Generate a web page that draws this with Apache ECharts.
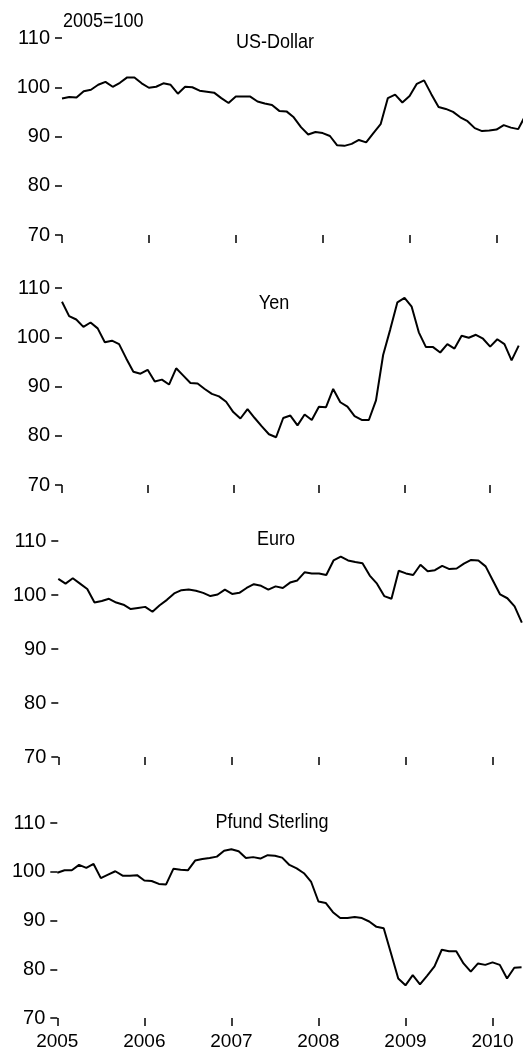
<!DOCTYPE html>
<html>
<head>
<meta charset="utf-8">
<script src="https://cdn.jsdelivr.net/npm/echarts@6/dist/echarts.min.js"></script>
<style>
html,body{margin:0;padding:0;background:#fff;}
#chart{width:523px;height:1054px;}
</style>
</head>
<body>
<div id="chart"></div>
<script>
// Months since January 2005 (index 0 = Jan 2005)
const yearLabels = ['2005','2006','2007','2008','2009','2010'];
const yearTickMonths = [0,12,24,36,48,60];
const yTicks = [70,80,90,100,110];
const panelTitles = ['US-Dollar','Yen','Euro','Pfund Sterling'];
const unitNote = '2005=100';

const usDollar = [97.7,98.0,97.9,99.2,99.5,100.5,101.1,100.1,100.9,102.0,102.0,100.8,
  99.9,100.1,100.8,100.5,98.7,100.1,100.0,99.3,99.1,98.9,97.8,96.8,
  98.1,98.1,98.1,97.1,96.7,96.4,95.2,95.1,93.9,91.9,90.4,90.9,
  90.7,90.1,88.2,88.1,88.5,89.3,88.8,90.7,92.5,97.8,98.5,96.9,
  98.2,100.7,101.4,98.6,96.0,95.6,95.0,93.9,93.1,91.7,91.1,91.2,
  91.4,92.3,91.8,91.5,94.3];
const yen = [107.2,104.3,103.6,102.1,103.0,101.8,99.0,99.3,98.6,95.7,93.0,92.6,
  93.4,91.0,91.4,90.4,93.7,92.2,90.7,90.6,89.5,88.5,88.0,86.9,
  84.8,83.5,85.4,83.6,81.9,80.3,79.7,83.6,84.1,82.1,84.3,83.2,
  85.9,85.8,89.5,86.8,85.9,84.0,83.2,83.2,87.2,96.4,101.6,107.1,
  108.0,106.2,101.0,98.0,98.0,96.9,98.6,97.7,100.3,99.9,100.5,99.7,
  98.1,99.6,98.6,95.3,98.3];
const euro = [103.0,102.1,103.1,102.1,101.1,98.6,98.9,99.3,98.6,98.2,97.4,97.6,
  97.8,96.9,98.1,99.1,100.3,100.9,101.0,100.8,100.4,99.8,100.1,101.0,
  100.2,100.4,101.3,102.0,101.7,101.0,101.6,101.3,102.3,102.7,104.2,104.0,
  104.0,103.7,106.4,107.1,106.4,106.1,105.9,103.6,102.1,99.8,99.3,104.5,
  104.0,103.7,105.6,104.4,104.6,105.4,104.8,104.9,105.8,106.5,106.4,105.3,
  102.7,100.1,99.4,97.9,94.9];
const pound = [99.8,100.3,100.3,101.4,100.8,101.6,98.7,99.4,100.1,99.2,99.2,99.3,
  98.2,98.1,97.5,97.4,100.6,100.4,100.3,102.3,102.6,102.8,103.1,104.3,
  104.6,104.2,102.8,103.0,102.7,103.4,103.3,102.9,101.4,100.7,99.7,97.9,
  93.9,93.6,91.7,90.5,90.5,90.7,90.5,89.8,88.7,88.4,83.3,78.1,
  76.7,78.8,76.9,78.7,80.6,84.0,83.7,83.7,81.2,79.5,81.2,80.9,
  81.4,80.9,78.1,80.3,80.4];

const seriesValues = [usDollar, yen, euro, pound];

// layout per panel (pixels)
const panels = [
  {left:62,   top:38,  height:197, xmax:63.66, titleX:275, titleY:42},
  {left:62,   top:288, height:197, xmax:64.6,  titleX:274, titleY:303},
  {left:58.3, top:541, height:216, xmax:64.16, titleX:276, titleY:539},
  {left:57.3, top:823, height:195, xmax:64.2,  titleX:272, titleY:822}
];

const FONT = '"Liberation Sans", Arial, sans-serif';
const FS_Y = 20;
const FS_X = 19;
const FS_T = 20;

const grids = [], xAxes = [], yAxes = [], series = [], graphics = [];
panels.forEach((p, k) => {
  grids.push({left:p.left, top:p.top, right:0, height:p.height, containLabel:false});
  xAxes.push({
    type:'value', gridIndex:k, min:0, max:p.xmax,
    axisLine:{show:false},
    splitLine:{show:false},
    axisTick:{show:true, inside:false, length:8, lineStyle:{color:'#000', width:1.5},
      customValues: yearTickMonths},
    axisLabel:{show: k === 3, margin:14, color:'#000', fontSize:FS_X, fontFamily:FONT,
      customValues: yearTickMonths,
      formatter: v => yearLabels[yearTickMonths.indexOf(Math.round(v))] || ''}
  });
  yAxes.push({
    type:'value', gridIndex:k, min:yTicks[0], max:yTicks[yTicks.length-1], interval:10,
    axisLine:{show:false},
    splitLine:{show:false},
    axisTick:{show:true, inside:false, length:7, lineStyle:{color:'#000', width:1.5}},
    axisLabel:{margin:12, color:'#000', fontSize:FS_Y, fontFamily:FONT}
  });
  series.push({
    type:'line', xAxisIndex:k, yAxisIndex:k,
    data: seriesValues[k].map((v, i) => [i, v]),
    showSymbol:false, symbol:'none', clip:true,
    lineStyle:{color:'#000', width:2},
    animation:false
  });
  graphics.push({
    type:'text', x:p.titleX, y:p.titleY, scaleX:0.9,
    style:{text:panelTitles[k], fill:'#000', font: FS_T + 'px ' + FONT,
      textAlign:'center', textVerticalAlign:'middle'}
  });
});
graphics.push({
  type:'text', x:63, y:21, scaleX:0.9,
  style:{text:unitNote, fill:'#000', font: FS_T + 'px ' + FONT,
    textAlign:'left', textVerticalAlign:'middle'}
});

const chart = echarts.init(document.getElementById('chart'), null, {renderer:'canvas'});
chart.setOption({
  animation:false,
  backgroundColor:'#fff',
  grid:grids, xAxis:xAxes, yAxis:yAxes, series:series, graphic:graphics
});
</script>
</body>
</html>
